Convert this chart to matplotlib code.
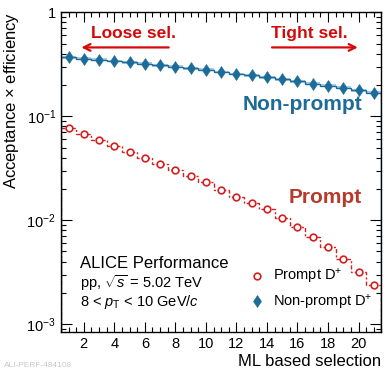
import numpy as np
import matplotlib
matplotlib.use('Agg')
import matplotlib.pyplot as plt
from matplotlib.ticker import MultipleLocator, LogLocator, NullFormatter, FixedFormatter, FixedLocator

plt.rcParams['font.family'] = ['Liberation Sans', 'DejaVu Sans']
plt.rcParams['mathtext.fontset'] = 'custom'
plt.rcParams['mathtext.rm'] = 'Liberation Sans'
plt.rcParams['mathtext.it'] = 'Liberation Sans:italic'

# Data
ml_sel = np.arange(1, 22)
prompt_eff = [0.0776, 0.0669, 0.0591, 0.0513, 0.0450, 0.0394, 0.0345, 0.0307,
              0.0267, 0.0235, 0.0196, 0.0169, 0.0147, 0.0127, 0.0105, 0.00865,
              0.00683, 0.00547, 0.00422, 0.00317, 0.00236]
nonprompt_eff = [0.370, 0.357, 0.350, 0.340, 0.330, 0.320, 0.310, 0.300,
                 0.290, 0.280, 0.267, 0.255, 0.247, 0.236, 0.227, 0.216,
                 0.206, 0.197, 0.188, 0.178, 0.168]
y_ticks = [1e-3, 1e-2, 1e-1, 1]
y_ticklabels = ['$10^{-3}$', '$10^{-2}$', '$10^{-1}$', '1']

blue = '#1d6b99'
blue_light = '#a8cde4'
red = '#d42020'
red_text = '#b83a2a'
arrow_red = '#d40a0a'

fig = plt.figure(figsize=(3.88, 3.71), dpi=100)
ax = fig.add_axes([0.157, 0.105, 0.826, 0.862])

edges = np.arange(0.5, len(ml_sel) + 1.0)
npv = np.array(nonprompt_eff)
ax.fill_between(edges, np.append(npv, npv[-1]) * 0.97, np.append(npv, npv[-1]) * 1.03,
                step='post', color=blue_light, lw=0, zorder=1)
ax.stairs(nonprompt_eff, edges, color=blue, lw=1.0, zorder=2)
ax.stairs(prompt_eff, edges, color=red, lw=1.0, ls=(0, (1.5, 1.5, 3, 1.5)), zorder=2)

ax.plot(ml_sel, nonprompt_eff, ls='none', marker='d', ms=6, mfc=blue, mec=blue,
        mew=0.4, zorder=3, label='Non-prompt D$^{+}$')
ax.plot(ml_sel, prompt_eff, ls='none', marker='o', ms=4.8, mfc='white', mec=red,
        mew=1.2, zorder=3, label='Prompt D$^{+}$')

ax.set_yscale('log')
ax.set_xlim(0.5, 21.5)
ax.set_ylim(8.4e-4, 1)

ax.xaxis.set_major_locator(MultipleLocator(2))
ax.xaxis.set_minor_locator(MultipleLocator(0.5))
ax.yaxis.set_major_locator(FixedLocator(y_ticks))
ax.yaxis.set_major_formatter(FixedFormatter(y_ticklabels))
ax.yaxis.set_minor_locator(LogLocator(base=10, subs=np.arange(2, 10)))
ax.yaxis.set_minor_formatter(NullFormatter())
ax.tick_params(which='both', direction='in', top=True, right=True, labelsize=10.5, width=0.8)
ax.tick_params(which='major', length=7)
ax.tick_params(which='minor', length=3.5)
ax.tick_params(axis='y', which='major', length=8)
for s in ax.spines.values():
    s.set_linewidth(1.0)

ax.set_xlabel('ML based selection', fontsize=12, loc='right', labelpad=2)
ax.set_ylabel('Acceptance $\\times$ efficiency', fontsize=12, loc='top', labelpad=4)

# selection annotations
ax.text(0.095, 0.935, 'Loose sel.', transform=ax.transAxes, fontsize=12.5,
        fontweight='bold', color=arrow_red, ha='left', va='center')
ax.text(0.655, 0.935, 'Tight sel.', transform=ax.transAxes, fontsize=12.5,
        fontweight='bold', color=arrow_red, ha='left', va='center')
ax.annotate('', xy=(0.055, 0.89), xytext=(0.345, 0.89), xycoords='axes fraction',
            arrowprops=dict(arrowstyle='->', color=arrow_red, lw=1.6, mutation_scale=12))
ax.annotate('', xy=(0.935, 0.89), xytext=(0.65, 0.89), xycoords='axes fraction',
            arrowprops=dict(arrowstyle='->', color=arrow_red, lw=1.6, mutation_scale=12))

ax.text(0.94, 0.71, 'Non-prompt', transform=ax.transAxes, fontsize=15,
        fontweight='bold', color=blue, ha='right', va='center')
ax.text(0.94, 0.42, 'Prompt', transform=ax.transAxes, fontsize=15,
        fontweight='bold', color=red_text, ha='right', va='center')

ax.text(0.06, 0.215, 'ALICE Performance', transform=ax.transAxes, fontsize=12, va='center')
ax.text(0.06, 0.152, 'pp, $\\sqrt{s}$ = 5.02 TeV', transform=ax.transAxes, fontsize=10.5, va='center')
ax.text(0.06, 0.095, '8 < $p_{\\rm T}$ < 10 GeV/$c$', transform=ax.transAxes, fontsize=10.5, va='center')

handles, labels = ax.get_legend_handles_labels()
ax.legend(handles[::-1], labels[::-1], loc='lower left', bbox_to_anchor=(0.57, 0.045),
          frameon=False, fontsize=10.5, handlelength=1.0, handletextpad=0.6,
          labelspacing=0.45, borderaxespad=0)

fig.text(0.01, 0.005, 'ALI-PERF-484108', fontsize=6, color='#c8c8c8', ha='left', va='bottom')

fig.savefig('out.png', dpi=100)
